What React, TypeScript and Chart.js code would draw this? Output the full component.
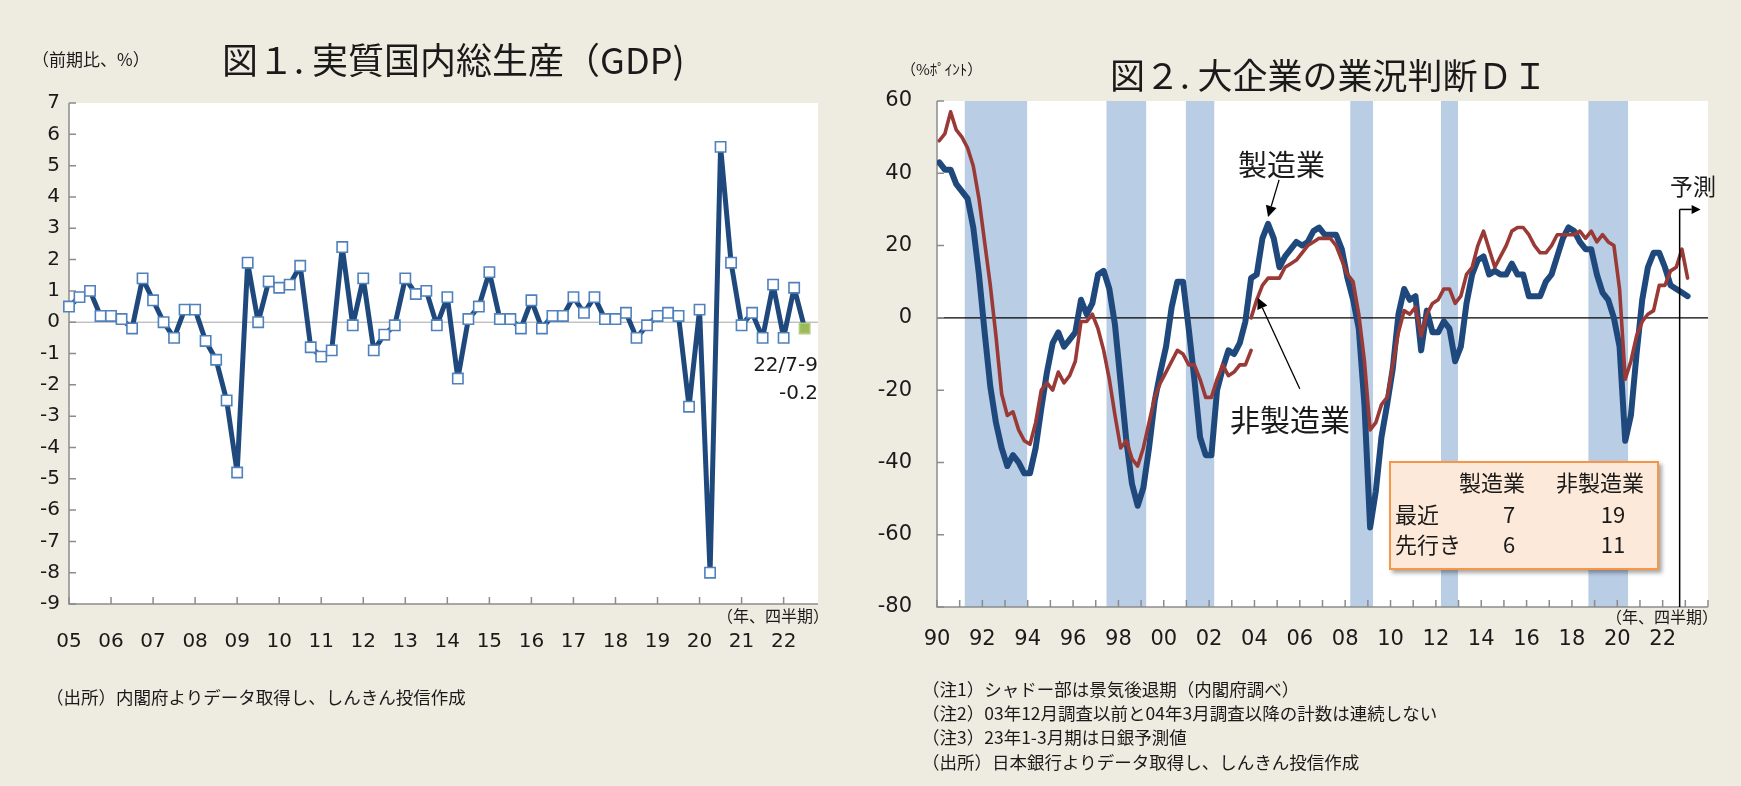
import React, { useEffect, useRef } from 'react';
import { Chart, registerables } from 'chart.js';

Chart.register(...registerables);

const W = 1741;
const H = 786;
const CJK = "'Noto Sans CJK JP', 'Noto Sans', sans-serif";
const NUM = "'DejaVu Sans', Verdana, sans-serif";

// ---------- 図1 実質GDP（前期比、%）2005Q1–2022Q3 ----------
const gdpYearLabels = ['05', '06', '07', '08', '09', '10', '11', '12', '13', '14', '15', '16', '17', '18', '19', '20', '21', '22'];
const gdpGrowth = [
  0.5, 0.8, 1.0, 0.2,
  0.2, 0.1, -0.2, 1.4,
  0.7, 0.0, -0.5, 0.4,
  0.4, -0.6, -1.2, -2.5,
  -4.8, 1.9, 0.0, 1.3,
  1.1, 1.2, 1.8, -0.8,
  -1.1, -0.9, 2.4, -0.1,
  1.4, -0.9, -0.4, -0.1,
  1.4, 0.9, 1.0, -0.1,
  0.8, -1.8, 0.1, 0.5,
  1.6, 0.1, 0.1, -0.2,
  0.7, -0.2, 0.2, 0.2,
  0.8, 0.3, 0.8, 0.1,
  0.1, 0.3, -0.5, -0.1,
  0.2, 0.3, 0.2, -2.7,
  0.4, -8.0, 5.6, 1.9,
  -0.1, 0.3, -0.5, 1.2,
  -0.5, 1.1, -0.2,
];
const gdpLatestPeriod = '22/7-9';

// ---------- 図2 大企業の業況判断DI ----------
const diYearLabels = ['90', '92', '94', '96', '98', '00', '02', '04', '06', '08', '10', '12', '14', '16', '18', '20', '22'];
const diFirstYear = 1990;
// 製造業 旧ベース 1990Q1–2003Q3
const manufacturingOld = [
  43, 41, 41, 37,
  35, 33, 25, 12,
  -4, -19, -29, -36,
  -41, -38, -40, -43,
  -43, -36, -25, -15,
  -7, -4, -8, -6,
  -4, 5, 1, 4,
  12, 13, 8, -2,
  -18, -34, -46, -52,
  -47, -36, -23, -15,
  -8, 3, 10, 10,
  -3, -17, -33, -38,
  -38, -20, -14, -9,
  -10, -7, -1,
];
// 製造業 新ベース 2003Q4–2023Q1（最後は予測）
const manufacturingNew = [
  11,
  12, 22, 26, 22,
  14, 17, 19, 21,
  20, 21, 24, 25,
  23, 23, 23, 19,
  11, 5, -3, -24,
  -58, -48, -33, -24,
  -14, 1, 8, 5,
  6, -9, 2, -4,
  -4, -1, -3, -12,
  -8, 4, 12, 16,
  17, 12, 13, 12,
  12, 15, 12, 12,
  6, 6, 6, 10,
  12, 17, 22, 25,
  24, 21, 19, 19,
  12, 7, 5, 0,
  -8, -34, -27, -10,
  5, 14, 18, 18,
  14, 9, 8, 7,
  6,
];
// 非製造業 旧ベース 1990Q1–2003Q4
const nonManufacturingOld = [
  49, 51, 57, 52,
  50, 47, 42, 33,
  21, 9, -5, -21,
  -27, -26, -31, -34,
  -35, -29, -20, -18,
  -20, -15, -18, -16,
  -12, -1, -1, 1,
  -3, -9, -17, -27,
  -36, -34, -39, -41,
  -36, -29, -22, -18,
  -15, -12, -9, -10,
  -13, -13, -17, -22,
  -22, -17, -13, -16,
  -15, -13, -13, -9,
];
// 非製造業 新ベース 2003Q4–2023Q1（最後は予測）
const nonManufacturingNew = [
  0,
  5, 9, 11, 11,
  11, 14, 15, 16,
  18, 20, 21, 22,
  22, 22, 20, 16,
  12, 10, 1, -12,
  -31, -29, -24, -22,
  -13, -4, 2, 1,
  3, -5, 1, 4,
  5, 8, 8, 4,
  6, 12, 14, 20,
  24, 19, 14, 17,
  20, 24, 25, 25,
  23, 20, 18, 18,
  20, 23, 23, 23,
  23, 24, 22, 24,
  21, 23, 21, 20,
  8, -17, -12, -5,
  -1, 1, 2, 9,
  9, 13, 14, 19,
  11,
];
// 景気後退期（内閣府）: 四半期
const recessionFrom = ['1991Q2', '1997Q3', '2001Q1', '2008Q2', '2012Q2', '2018Q4'];
const recessionTo = ['1993Q4', '1999Q1', '2002Q1', '2009Q1', '2012Q4', '2020Q2'];
const tableRowLabels = ['最近', '先行き'];

// quarter index -> x value (years)
const qx = (i: number) => diFirstYear + i / 4 + 0.1;
const parseQ = (s: string) => {
  const [y, q] = s.split('Q').map(Number);
  return (y - diFirstYear) * 4 + (q - 1);
};

function drawArrow(ctx: CanvasRenderingContext2D, x0: number, y0: number, x1: number, y1: number, head = 11, half = 5) {
  const ang = Math.atan2(y1 - y0, x1 - x0);
  const bx = x1 - head * Math.cos(ang);
  const by = y1 - head * Math.sin(ang);
  ctx.beginPath();
  ctx.moveTo(x0, y0);
  ctx.lineTo(bx, by);
  ctx.stroke();
  ctx.beginPath();
  ctx.moveTo(x1, y1);
  ctx.lineTo(bx + half * Math.sin(ang), by - half * Math.cos(ang));
  ctx.lineTo(bx - half * Math.sin(ang), by + half * Math.cos(ang));
  ctx.closePath();
  ctx.fill();
}

function makeDecor(cfg: { zeroColor: string; zeroWidth: number; bands?: [number, number][]; after?: (c: any) => void }) {
  return {
    id: 'decor',
    beforeDraw(chart: any) {
      const { ctx, chartArea: a } = chart;
      ctx.save();
      ctx.fillStyle = '#FFFFFF';
      ctx.fillRect(a.left, a.top, a.right - a.left, a.bottom - a.top);
      ctx.restore();
    },
    beforeDatasetsDraw(chart: any) {
      const { ctx, chartArea: a, scales } = chart;
      const x = scales.x;
      const y = scales.y;
      ctx.save();
      if (cfg.bands) {
        ctx.fillStyle = '#B9CDE5';
        for (const [s, e] of cfg.bands) {
          const x0 = x.getPixelForValue(s);
          const x1 = x.getPixelForValue(e);
          ctx.fillRect(x0, a.top, x1 - x0, a.bottom - a.top);
        }
      }
      const y0 = y.getPixelForValue(0);
      ctx.strokeStyle = cfg.zeroColor;
      ctx.lineWidth = cfg.zeroWidth;
      ctx.beginPath();
      ctx.moveTo(a.left, y0);
      ctx.lineTo(a.right, y0);
      ctx.stroke();
      ctx.strokeStyle = '#8C8C8C';
      ctx.lineWidth = 1.5;
      ctx.beginPath();
      ctx.moveTo(a.left, a.top);
      ctx.lineTo(a.left, a.bottom);
      ctx.lineTo(a.right, a.bottom);
      ctx.stroke();
      ctx.beginPath();
      for (const t of y.ticks) {
        const py = y.getPixelForValue(t.value);
        ctx.moveTo(a.left, py);
        ctx.lineTo(a.left + 7, py);
      }
      for (const t of x.ticks) {
        const px = x.getPixelForValue(t.value);
        ctx.moveTo(px, a.bottom);
        ctx.lineTo(px, a.bottom - 7);
      }
      ctx.stroke();
      ctx.restore();
    },
    afterDatasetsDraw(chart: any) {
      if (cfg.after) cfg.after(chart);
    },
  };
}

function GdpChart() {
  const ref = useRef<HTMLCanvasElement>(null);
  useEffect(() => {
    const last = gdpGrowth.length - 1;
    const chart = new Chart(ref.current as HTMLCanvasElement, {
      type: 'line',
      data: {
        datasets: [
          {
            data: gdpGrowth.map((v, i) => ({ x: i, y: v })),
            borderColor: '#1F497D',
            borderWidth: 5,
            borderJoinStyle: 'round',
            pointStyle: 'rect',
            pointRadius: 7.3,
            pointBorderWidth: 1.6,
            pointBackgroundColor: gdpGrowth.map((_, i) => (i === last ? '#9BBB59' : '#FFFFFF')),
            pointBorderColor: gdpGrowth.map((_, i) => (i === last ? '#B3CB7E' : '#4F81BD')),
            clip: false,
            tension: 0,
          } as any,
        ],
      },
      options: {
        responsive: false,
        animation: false,
        events: [],
        layout: { padding: { left: 0, top: 103, right: 52, bottom: 122 } },
        plugins: { legend: { display: false }, tooltip: { enabled: false } },
        scales: {
          x: {
            type: 'linear',
            min: 0,
            max: 71.27,
            grid: { display: false, drawTicks: false },
            border: { display: false },
            afterBuildTicks: (axis: any) => {
              axis.ticks = gdpYearLabels.map((_, k) => ({ value: k * 4 }));
            },
            afterFit: (axis: any) => {
              axis.height = 60;
            },
            ticks: {
              autoSkip: false,
              maxRotation: 0,
              minRotation: 0,
              padding: 26,
              color: '#1a1a1a',
              font: { family: NUM, size: 20 },
              callback: (v: any) => gdpYearLabels[Math.round(Number(v) / 4)] ?? '',
            },
          },
          y: {
            type: 'linear',
            min: -9,
            max: 7,
            grid: { display: false, drawTicks: false },
            border: { display: false },
            afterFit: (axis: any) => {
              axis.width = 69;
            },
            ticks: {
              stepSize: 1,
              padding: 9,
              color: '#1a1a1a',
              font: { family: NUM, size: 20 },
              callback: (v: any) => String(v),
            },
          },
        },
      } as any,
      plugins: [makeDecor({ zeroColor: '#A6A6A6', zeroWidth: 1 })],
    });
    return () => chart.destroy();
  }, []);
  return <canvas ref={ref} width={870} height={786} style={{ position: 'absolute', left: 0, top: 0, width: 870, height: 786 }} />;
}

function DiChart() {
  const ref = useRef<HTMLCanvasElement>(null);
  useEffect(() => {
    const mfg = [...manufacturingOld, ...manufacturingNew];
    const newStart = nonManufacturingOld.length - 1;
    const bands: [number, number][] = recessionFrom.map((s, k) => [qx(parseQ(s)) - 0.125, qx(parseQ(recessionTo[k])) + 0.125]);
    const forecastIdx = mfg.length - 1;

    const after = (chart: any) => {
      const { ctx, chartArea: a, scales } = chart;
      const x = scales.x;
      const y = scales.y;
      ctx.save();
      ctx.strokeStyle = '#000';
      ctx.fillStyle = '#000';
      ctx.lineWidth = 1.5;
      // 予測 marker
      const fx = x.getPixelForValue(qx(forecastIdx - 1) - 0.1);
      const fy = y.getPixelForValue(30);
      ctx.beginPath();
      ctx.moveTo(fx, a.bottom);
      ctx.lineTo(fx, fy);
      ctx.stroke();
      drawArrow(ctx, fx, fy, fx + 21, fy, 9, 4.5);
      // 製造業 arrow -> 2004 peak
      const seg = manufacturingNew.slice(0, 8);
      const pk = manufacturingOld.length + seg.indexOf(Math.max(...seg));
      const mx = x.getPixelForValue(qx(pk));
      const my = y.getPixelForValue(mfg[pk]) - 7;
      ctx.lineWidth = 1.3;
      drawArrow(ctx, mx + 11, my - 37, mx, my, 11, 5.5);
      // 非製造業 arrow
      const ni = newStart + 1;
      const nx = x.getPixelForValue(qx(ni)) + 1;
      const ny = y.getPixelForValue(nonManufacturingNew[1]) - 2;
      drawArrow(ctx, nx + 42, ny + 91, nx, ny, 11, 5.5);
      ctx.restore();
    };

    const chart = new Chart(ref.current as HTMLCanvasElement, {
      type: 'line',
      data: {
        datasets: [
          {
            data: nonManufacturingOld.map((v, i) => ({ x: qx(i), y: v })),
            borderColor: '#9A3A36',
            borderWidth: 3.6,
            pointRadius: 0,
            borderJoinStyle: 'round',
            borderCapStyle: 'round',
            order: 0,
          },
          {
            data: nonManufacturingNew.map((v, i) => ({ x: qx(newStart + i), y: v })),
            borderColor: '#9A3A36',
            borderWidth: 3.6,
            pointRadius: 0,
            borderJoinStyle: 'round',
            borderCapStyle: 'round',
            order: 0,
          },
          {
            data: mfg.map((v, i) => ({ x: qx(i), y: v })),
            borderColor: '#1F497D',
            borderWidth: 6,
            pointRadius: 0,
            borderJoinStyle: 'round',
            borderCapStyle: 'round',
            order: 1,
          },
        ] as any,
      },
      options: {
        responsive: false,
        animation: false,
        events: [],
        layout: { padding: { left: 0, top: 101, right: 33, bottom: 119 } },
        plugins: { legend: { display: false }, tooltip: { enabled: false } },
        scales: {
          x: {
            type: 'linear',
            min: 1990,
            max: 2024,
            grid: { display: false, drawTicks: false },
            border: { display: false },
            afterBuildTicks: (axis: any) => {
              const t = [];
              for (let yv = 1990; yv <= 2024; yv++) t.push({ value: yv });
              axis.ticks = t;
            },
            afterFit: (axis: any) => {
              axis.height = 60;
            },
            ticks: {
              autoSkip: false,
              maxRotation: 0,
              minRotation: 0,
              padding: 20,
              color: '#1a1a1a',
              font: { family: NUM, size: 21 },
              callback: (v: any) => {
                const k = (Number(v) - diFirstYear) / 2;
                return Number.isInteger(k) && k < diYearLabels.length ? diYearLabels[k] : '';
              },
            },
          },
          y: {
            type: 'linear',
            min: -80,
            max: 60,
            grid: { display: false, drawTicks: false },
            border: { display: false },
            afterFit: (axis: any) => {
              axis.width = 67;
            },
            ticks: {
              stepSize: 20,
              padding: 25,
              color: '#1a1a1a',
              font: { family: NUM, size: 21 },
              callback: (v: any) => String(v),
            },
          },
        },
      } as any,
      plugins: [makeDecor({ zeroColor: '#000000', zeroWidth: 1.2, bands, after })],
    });
    return () => chart.destroy();
  }, []);
  return <canvas ref={ref} width={871} height={786} style={{ position: 'absolute', left: 870, top: 0, width: 871, height: 786 }} />;
}

type TxtProps = {
  x: number;
  y: number;
  size: number;
  align?: 'left' | 'right' | 'center';
  font?: string;
  color?: string;
  children: React.ReactNode;
};

function Txt({ x, y, size, align = 'left', font = CJK, color = '#1a1a1a', children }: TxtProps) {
  const k = font === CJK ? 0.53 : 0.48;
  const style: React.CSSProperties = {
    position: 'absolute',
    top: y - size * k,
    fontSize: size,
    lineHeight: 1,
    fontFamily: font,
    color,
    whiteSpace: 'nowrap',
  };
  if (align === 'left') style.left = x;
  else if (align === 'right') style.right = W - x;
  else {
    style.left = x;
    style.transform = 'translateX(-50%)';
  }
  return <div style={style}>{children}</div>;
}

export default function App() {
  const mLatest = manufacturingNew[manufacturingNew.length - 2];
  const mFcst = manufacturingNew[manufacturingNew.length - 1];
  const nLatest = nonManufacturingNew[nonManufacturingNew.length - 2];
  const nFcst = nonManufacturingNew[nonManufacturingNew.length - 1];
  const gdpLast = gdpGrowth[gdpGrowth.length - 1].toFixed(1);
  return (
    <div style={{ position: 'absolute', left: 0, top: 0, width: W, height: H, background: '#EEECE1', overflow: 'hidden' }}>
      <GdpChart />
      <DiChart />

      {/* Figure 1 texts */}
      <Txt x={32} y={59} size={17}>（前期比、%）</Txt>
      <Txt x={222} y={59} size={36}>図１. 実質国内総生産（GDP)</Txt>
      <Txt x={818} y={364} size={20} align="right" font={NUM}>{gdpLatestPeriod}</Txt>
      <Txt x={818} y={392} size={20} align="right" font={NUM}>{gdpLast}</Txt>
      <Txt x={829} y={615} size={16} align="right">（年、四半期）</Txt>
      <Txt x={46} y={697} size={17.5}>（出所）内閣府よりデータ取得し、しんきん投信作成</Txt>

      {/* Figure 2 texts */}
      <Txt x={901} y={69} size={15}>（%ﾎﾟｲﾝﾄ）</Txt>
      <Txt x={1110} y={75} size={35}>図２. 大企業の業況判断ＤＩ</Txt>
      <Txt x={1238} y={164} size={29}>製造業</Txt>
      <Txt x={1230} y={419} size={30}>非製造業</Txt>
      <Txt x={1670} y={186} size={23}>予測</Txt>
      <Txt x={1718} y={616} size={16} align="right">（年、四半期）</Txt>

      <div
        style={{
          position: 'absolute',
          left: 1389,
          top: 461,
          width: 270,
          height: 109,
          boxSizing: 'border-box',
          background: '#FDE9D9',
          border: '2px solid #F79646',
          boxShadow: '3px 3px 4px rgba(0,0,0,0.35)',
        }}
      />
      <Txt x={1492} y={482} size={22} align="center">製造業</Txt>
      <Txt x={1600} y={482} size={22} align="center">非製造業</Txt>
      <Txt x={1395} y={514} size={22}>{tableRowLabels[0]}</Txt>
      <Txt x={1395} y={544} size={22}>{tableRowLabels[1]}</Txt>
      <Txt x={1509} y={514} size={22} align="center">{mLatest}</Txt>
      <Txt x={1613} y={514} size={22} align="center">{nLatest}</Txt>
      <Txt x={1509} y={544} size={22} align="center">{mFcst}</Txt>
      <Txt x={1613} y={544} size={22} align="center">{nFcst}</Txt>

      <Txt x={922} y={689} size={17.5}>（注1）シャドー部は景気後退期（内閣府調べ）</Txt>
      <Txt x={922} y={713} size={17.5}>（注2）03年12月調査以前と04年3月調査以降の計数は連続しない</Txt>
      <Txt x={922} y={737} size={17.5}>（注3）23年1-3月期は日銀予測値</Txt>
      <Txt x={922} y={762} size={17.5}>（出所）日本銀行よりデータ取得し、しんきん投信作成</Txt>
    </div>
  );
}
